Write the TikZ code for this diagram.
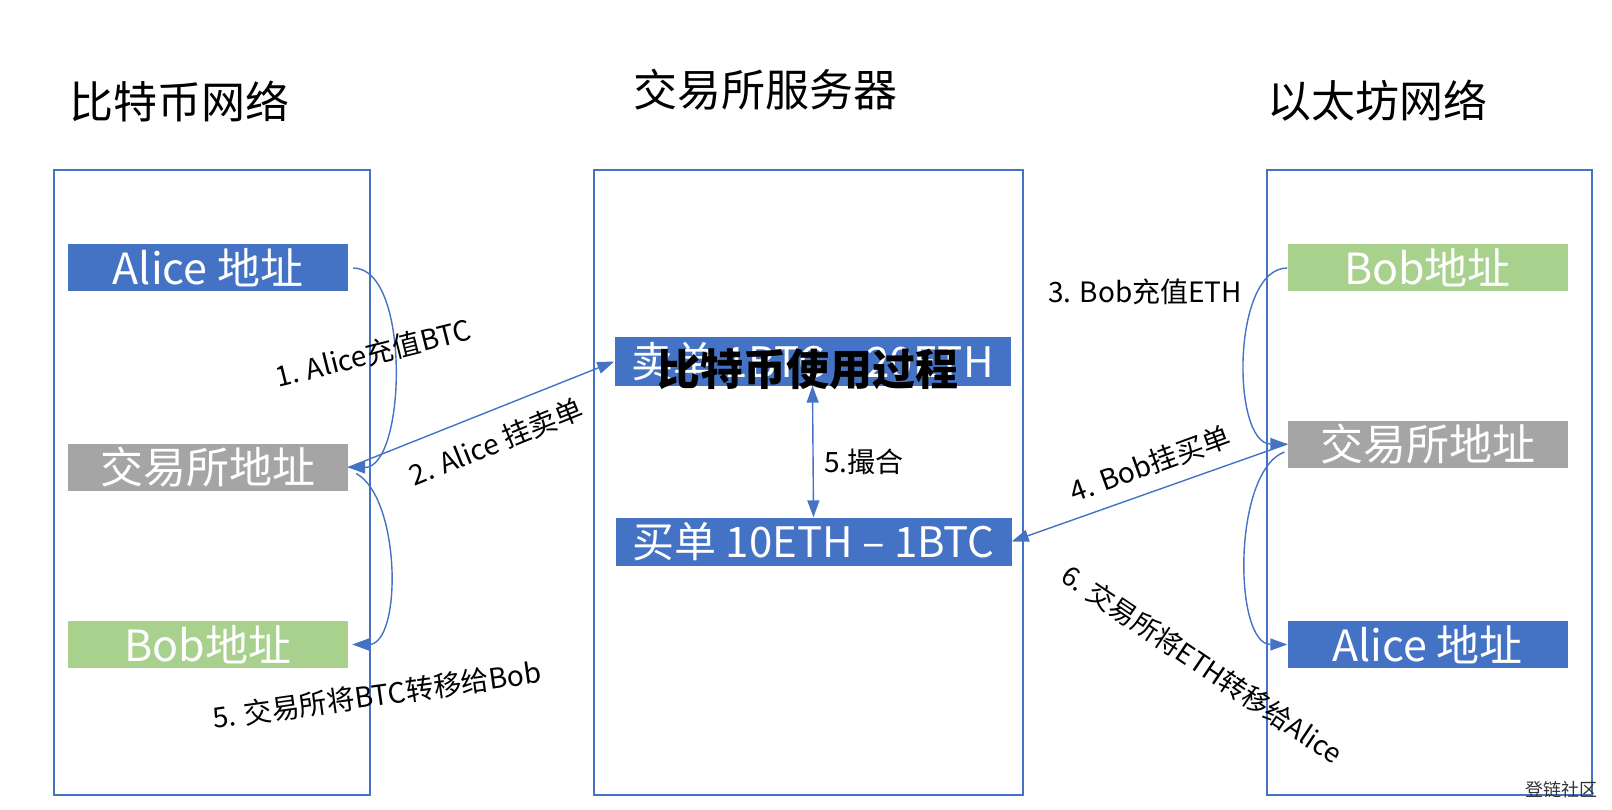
\documentclass[tikz,border=0pt]{standalone}
\usepackage{fontspec}
\setmainfont{Noto Sans CJK SC}
\usetikzlibrary{arrows.meta}
\definecolor{addrblue}{RGB}{68,114,196}
\definecolor{addrgray}{RGB}{165,165,165}
\definecolor{addrgreen}{RGB}{169,209,142}

\begin{document}
\begin{tikzpicture}[
        x=1pt,
        y=-1pt,
        >={Triangle[length=17pt,width=12pt]},
        every node/.style={font=\fontsize{28}{32}\selectfont},
        frame/.style={draw=addrblue, line width=1.6pt},
        heading/.style={font=\fontsize{44}{48}\selectfont},
        addr/.style={minimum width=280pt, minimum height=47pt, inner sep=0pt,
                text=white, font=\fontsize{43}{46}\selectfont},
        order/.style={addr, fill=addrblue, minimum width=396pt, minimum height=48pt,
                font=\fontsize{42}{46}\selectfont},
        flow/.style={draw=addrblue, line width=1.4pt, ->}
    ]
    \useasboundingbox (0,0) rectangle (1612,810);

    % three networks
    \draw[frame] (54,170) rectangle (370,795);
    \draw[frame] (594,170) rectangle (1023,795);
    \draw[frame] (1267,170) rectangle (1592,795);

    \node[heading] (btctitle) at (179,101) {比特币网络};
    \node[heading] (extitle) at (765,90) {交易所服务器};
    \node[heading] (ethtitle) at (1377,101) {以太坊网络};

    \node[addr, fill=addrblue] (btcalice) at (208,268) {Alice 地址};
    \node[addr, fill=addrgray] (btcexch) at (208,467.5) {交易所地址};
    \node[addr, fill=addrgreen] (btcbob) at (208,644.5) {Bob地址};

    \node[order] (sell) at (812.5,361.5) {卖单 1BTC – 20ETH};
    \node[order] (buy) at (813.5,541.5) {买单 10ETH – 1BTC};

    \node[addr, fill=addrgreen] (ethbob) at (1427.5,268) {Bob地址};
    \node[addr, fill=addrgray] (ethexch) at (1427.5,444) {交易所地址};
    \node[addr, fill=addrblue] (ethalice) at (1427.5,644.5) {Alice 地址};

    % flows
    \draw[flow] ([xshift=5pt]btcalice.east) .. controls +(58,0) and +(58,0) .. (btcexch.east);
    \draw[flow] (btcexch.east) -- (sell.west);
    \draw[flow] ([xshift=8pt,yshift=-6pt]btcexch.east) .. controls +(45,25) and +(50,0) .. ([xshift=4pt]btcbob.east);
    \draw[flow, <->] (sell.south) -- (buy.north);
    \draw[flow] (ethbob.west) .. controls +(-56,0) and +(-56,0) .. (ethexch.west);
    \draw[flow] (ethexch.west) -- (buy.east);
    \draw[flow] ([xshift=-3pt,yshift=-8pt]ethexch.west) .. controls +(-52,20) and +(-54,0) .. (ethalice.west);

    \node[rotate=14] (lbldeposit) at (373,353) {1. Alice充值BTC};
    \node[rotate=22] (lblsell) at (496,442) {2. Alice 挂卖单};
    \node (lbldeposit2) at (1145,292) {3. Bob充值ETH};
    \node[rotate=20] (lblbuy) at (1150,464) {4. Bob挂买单};
    \node (lblmatch) at (864,462) {5.撮合};
    \node[rotate=8] (lblbtcout) at (377,695) {5. 交易所将BTC转移给Bob};
    \node[rotate=-34, font=\fontsize{27}{30}\selectfont] (lblethout) at (1202,664) {6. 交易所将ETH转移给Alice};

    \node[font=\fontsize{43}{46}\selectfont\bfseries] (overlay) at (808,369) {比特币使用过程};
    \node[font=\fontsize{18}{20}\selectfont, text=black!80] (mark) at (1561,790) {登链社区};
\end{tikzpicture}
\end{document}
